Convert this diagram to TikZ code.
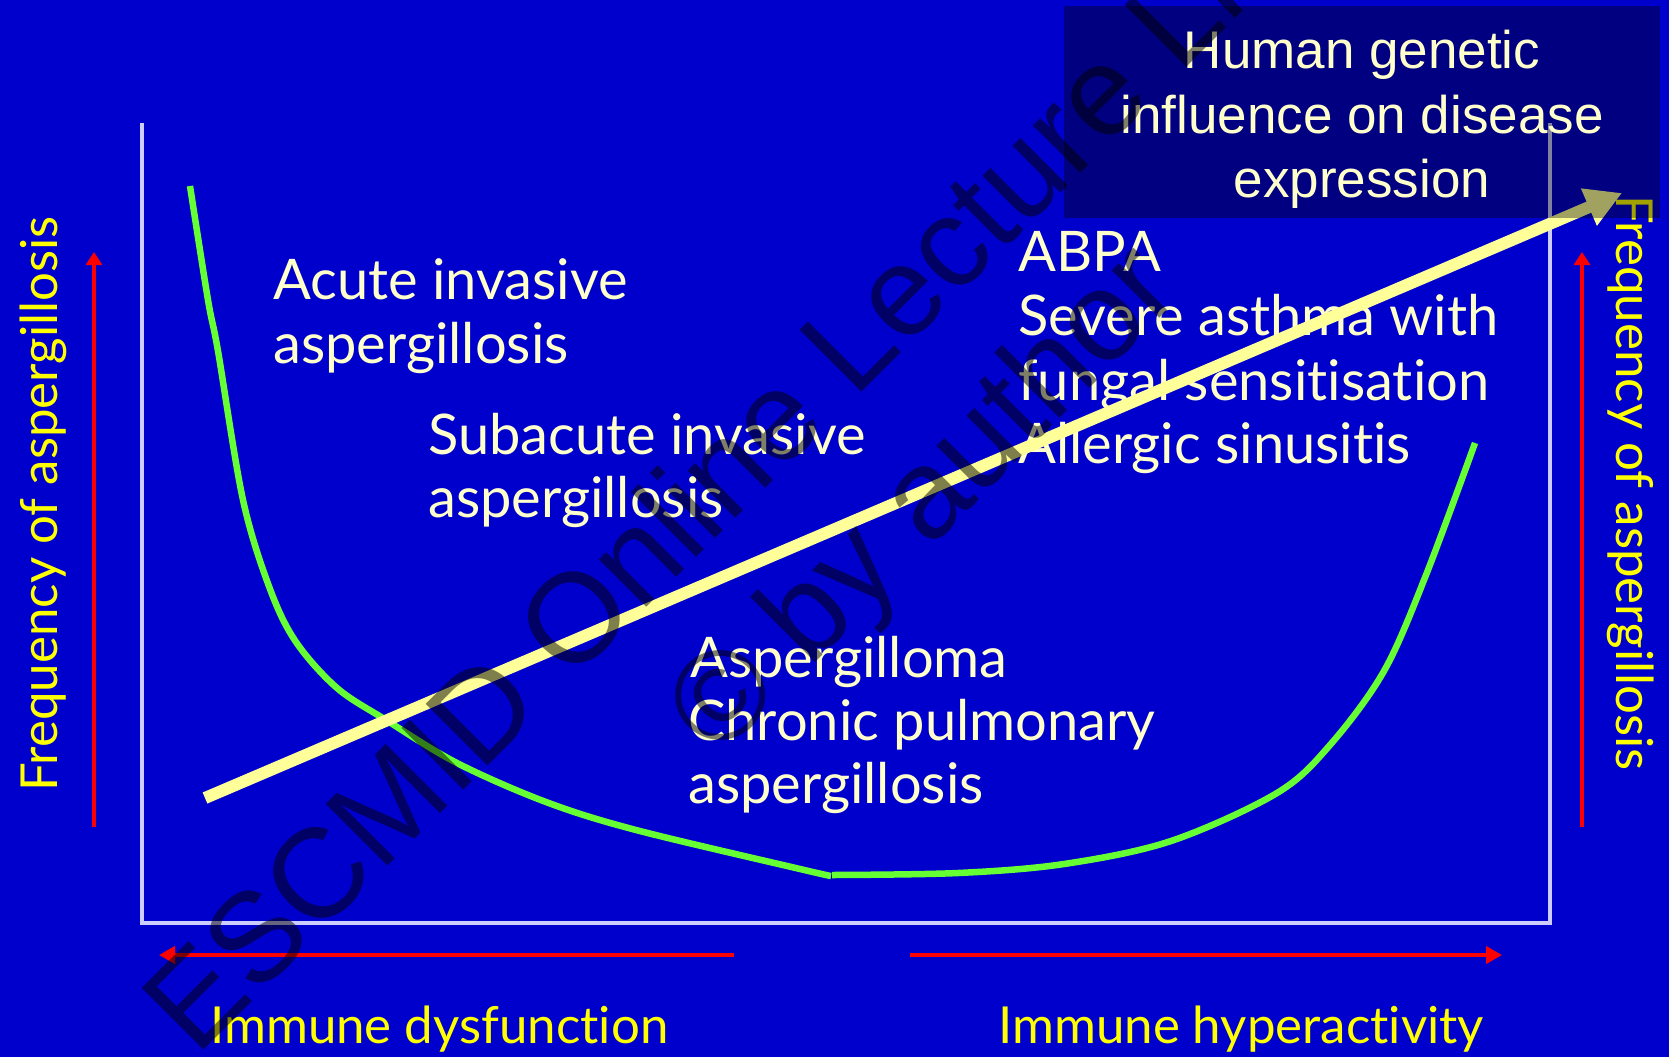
\documentclass[tikz,border=0pt]{standalone}
\usepackage{fontspec}
\setmainfont{Lato}[Ligatures={NoCommon,NoContextual,NoRare}]
\newfontfamily\arialf{Liberation Sans}
\usetikzlibrary{arrows.meta}
\definecolor{bgblue}{HTML}{0000CC}
\definecolor{axiscol}{HTML}{CCCCFF}
\definecolor{cream}{HTML}{FFFFCC}
\definecolor{ylw}{HTML}{FFFF00}
\definecolor{arrowy}{HTML}{FFFF99}
\definecolor{grn}{HTML}{66FF33}
\definecolor{redc}{HTML}{FF0000}
\begin{document}
\begin{tikzpicture}[x=1pt,y=-1pt,
  body/.style={anchor=base west, inner sep=0pt, text=cream, font=\fontsize{56}{64}\selectfont},
  axlabel/.style={inner sep=0pt, text=ylw, font=\fontsize{51}{60}\selectfont},
  boxtext/.style={anchor=base, inner sep=0pt, text=cream, font=\arialf\fontsize{53}{64}\selectfont},
  redarrow/.style={draw=redc, line width=4.5pt, -{Triangle[length=13pt,width=16pt]}},
  wmark/.style={anchor=base west, inner sep=0pt, rotate=45, text=black, text opacity=0.5, font=\arialf\fontsize{127}{150}\selectfont},
  axisline/.style={draw=axiscol, line width=4.5pt},
  curve/.style={draw=grn, line width=6.5pt},
]
\fill[bgblue] (0,0) rectangle (1669,1057);
\useasboundingbox (0,0) rectangle (1669,1057);
\clip (0,0) rectangle (1669,1057);

% axes
\coordinate (axTL) at (142,123);
\coordinate (axBL) at (142,923);
\coordinate (axBR) at (1550,923);
\coordinate (axTR) at (1550,123);
\draw[axisline] (axTL) -- (axBL) -- (axBR) -- (axTR);

% red arrows
\coordinate (lvs) at (94,827);
\coordinate (lve) at (94,252);
\coordinate (rvs) at (1582,827);
\coordinate (rve) at (1582,252);
\coordinate (lhs) at (734,955);
\coordinate (lhe) at (159,955);
\coordinate (rhs) at (910,955);
\coordinate (rhe) at (1502,955);
\draw[redarrow] (lvs) -- (lve);
\draw[redarrow] (rvs) -- (rve);
\draw[redarrow, -{Triangle[length=16pt,width=17pt]}] (lhs) -- (lhe);
\draw[redarrow, -{Triangle[length=16pt,width=17pt]}] (rhs) -- (rhe);

% green curve
\draw[curve, line join=round] plot[smooth, tension=0.55] coordinates {(190,186) (208,300) (218,351) (243,500) (270,589) (296,642) (337,688) (386,720) (457,763) (546,802) (636,830) (800,869) (831,876)};
\draw[curve, line join=round] plot[smooth, tension=0.55] coordinates {(832,875) (958,873) (1064,864) (1171,841) (1277,793) (1330,745) (1384,671) (1426,575) (1475,443)};

% axis labels
\node[axlabel, anchor=base, rotate=90] (freqL) at (57,504) {Frequency of aspergillosis};
\node[axlabel, anchor=base, rotate=-90] (freqR) at (1616,483) {Frequency of aspergillosis};
\node[axlabel, anchor=base west] (dysf) at (210,1043) {Immune dysfunction};
\node[axlabel, anchor=base west] (hyper) at (998,1043) {Immune hyperactivity};

% body texts
\node[body] (ac1) at (273,299) {Acute invasive};
\node[body] (ac2) at (273,363) {aspergillosis};
\node[body] (sa1) at (428,454) {Subacute invasive};
\node[body] (sa2) at (428,517) {aspergillosis};
\node[body] (ab1) at (1018,271) {ABPA};
\node[body] (ab2) at (1018,335) {Severe asthma with};
\node[body] (ab3) at (1018,400) {fungal sensitisation};
\node[body] (ab4) at (1018,463) {Allergic sinusitis};
\node[body] (ag1) at (690,677) {Aspergilloma};
\node[body] (ag2) at (688,740) {Chronic pulmonary};
\node[body] (ag3) at (688,803) {aspergillosis};

% yellow arrow
\coordinate (ya) at (205,798);
\coordinate (yb) at (1622,193);
\draw[arrowy, line width=12pt, -{Triangle[length=36pt,width=38pt]}] (ya) -- (yb);

% genetic box
\fill[black, fill opacity=0.37] (1064,6) rectangle (1660,218);
\node[boxtext] (g1) at (1362,69) {Human genetic};
\node[boxtext] (g2) at (1362,133) {influence on disease};
\node[boxtext] (g3) at (1362,197) {expression};

% watermark
\node[wmark] (wm1) at (196,1058) {ESCMID Online Lecture Library};
\node[wmark] (wm2) at (718,760) {\textcopyright{} by author};
\end{tikzpicture}
\end{document}
